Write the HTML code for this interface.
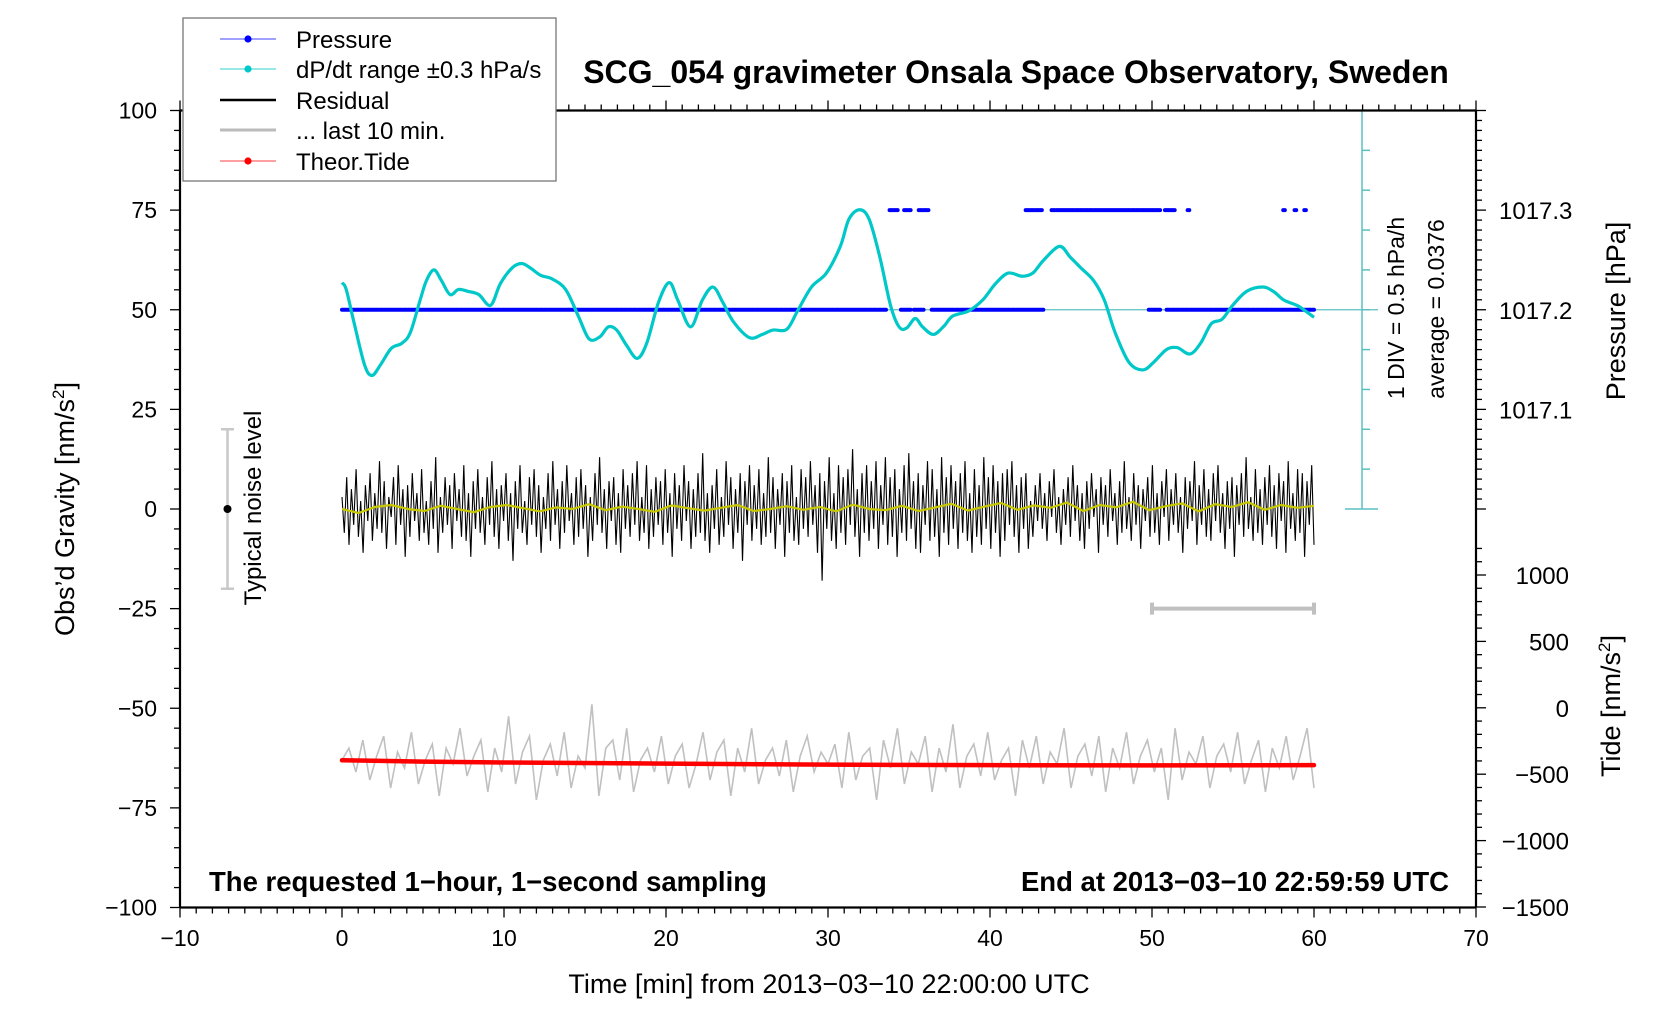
<!DOCTYPE html>
<html><head><meta charset="utf-8"><style>
html,body{margin:0;padding:0;background:#fff;}
svg{display:block;font-family:"Liberation Sans",Arial,sans-serif;}
</style></head><body>
<svg id="chart" width="1676" height="1020" viewBox="0 0 1676 1020" xmlns="http://www.w3.org/2000/svg">
<rect x="0" y="0" width="1676" height="1020" fill="#fff"/>
<g id="ticks"></g>
<g id="series"></g>
<g id="frame"></g>
<g id="labels"></g>
<text x="1016" y="83" font-size="32" font-weight="bold" text-anchor="middle">SCG_054 gravimeter Onsala Space Observatory, Sweden</text>
<text transform="translate(74,509) rotate(-90)" font-size="27" text-anchor="middle">Obs’d Gravity [nm/s<tspan font-size="17" dy="-10">2</tspan><tspan dy="10">]</tspan></text>
<text x="829" y="993" font-size="27" text-anchor="middle">Time [min] from 2013−03−10 22:00:00 UTC</text>
<text transform="translate(1625,311) rotate(-90)" font-size="27" text-anchor="middle">Pressure [hPa]</text>
<text transform="translate(1620,706) rotate(-90)" font-size="27" text-anchor="middle">Tide [nm/s<tspan font-size="17" dy="-10">2</tspan><tspan dy="10">]</tspan></text>
<text transform="translate(1404,308) rotate(-90)" font-size="23" text-anchor="middle">1 DIV = 0.5 hPa/h</text>
<text transform="translate(1444,309) rotate(-90)" font-size="23" text-anchor="middle">average = 0.0376</text>
<text transform="translate(261,508) rotate(-90)" font-size="24" text-anchor="middle">Typical noise level</text>
<text x="209" y="891" font-size="27.5" font-weight="bold">The requested 1−hour, 1−second sampling</text>
<text x="1449" y="891" font-size="27.5" font-weight="bold" text-anchor="end">End at 2013−03−10 22:59:59 UTC</text>
<g>
<rect x="183" y="18" width="373" height="163" fill="#fff" stroke="#777" stroke-width="1.3"/>
<g><line x1="220" y1="39" x2="276" y2="39" stroke="#4040ff" stroke-width="1"/><circle cx="248" cy="39" r="3.6" fill="#0000ff"/><text x="296" y="48" font-size="24">Pressure</text></g>
<g><line x1="220" y1="69" x2="276" y2="69" stroke="#30d0d0" stroke-width="1"/><circle cx="248" cy="69" r="3.6" fill="#00c8c8"/><text x="296" y="78" font-size="24">dP/dt range ±0.3 hPa/s</text></g>
<g><line x1="220" y1="100" x2="276" y2="100" stroke="#000" stroke-width="2.5"/><text x="296" y="109" font-size="24">Residual</text></g>
<g><line x1="220" y1="130" x2="276" y2="130" stroke="#bbb" stroke-width="3"/><text x="296" y="139" font-size="24">... last 10 min.</text></g>
<g><line x1="220" y1="161" x2="276" y2="161" stroke="#ff4040" stroke-width="1"/><circle cx="248" cy="161" r="3.6" fill="#ff0000"/><text x="296" y="170" font-size="24">Theor.Tide</text></g>
</g>
</svg>
<script>
// ---- data ----
const dpdtTimes=[0,0.26,0.73,1.39,1.85,2.38,3.04,3.70,4.22,4.82,5.21,5.68,6.14,6.67,7.19,7.79,8.45,9.17,9.77,10.5,11.09,11.62,12.28,12.94,13.8,14.59,15.25,15.91,16.44,16.96,17.56,18.22,18.81,19.54,20.2,20.73,21.52,22.24,22.9,23.5,24.16,25.15,25.94,26.6,27.46,28.12,28.98,29.9,30.76,31.29,31.95,32.54,33.2,33.86,34.39,34.85,35.38,35.84,36.5,37.16,37.69,38.68,39.54,40.33,41.12,41.98,42.64,43.3,44.29,44.95,45.61,46.4,47.06,47.72,48.58,49.44,50.1,50.89,51.55,52.34,53,53.66,54.32,54.98,55.84,56.83,57.49,58.15,58.94,59.47,60];
const dpdtValues=[56.8,55.1,47,36.2,33.5,36.2,40.3,41.6,44.3,52.4,57.3,60,57.3,53.8,55.1,54.6,53.8,51.1,56.5,60.5,61.6,60.5,58.6,57.8,55.1,48.4,42.7,43.2,45.7,44.9,41.1,37.8,41.6,51.9,56.8,52.4,45.7,52.4,55.7,51.9,47,43,43.8,44.9,45.1,49.7,55.7,59.2,65.9,72.7,75.1,72.7,63.2,51.1,45.7,45.4,47.8,45.7,43.8,45.9,48.4,49.7,52.4,56.5,59.2,58.4,59.2,62.4,65.9,63.2,60.5,57.3,52.4,44.3,36.8,34.9,36.8,40,40.5,38.9,41.6,46.5,47.6,51.1,54.6,55.7,54.6,52.4,51.1,49.7,48.1];
const presSegStart=[0,33.8,34.7,35.6,42.2,43.8,50.8,52.2,58.1,58.8,59.4,34.5,35.3,36.4,49.8,50.9];
const presSegEnd=[33.6,34.3,35.1,36.2,43.2,50.5,51.4,52.3,58.2,58.9,59.5,35.1,35.9,43.3,50.5,60];
const presSegValue=[1017.2,1017.3,1017.3,1017.3,1017.3,1017.3,1017.3,1017.3,1017.3,1017.3,1017.3,1017.2,1017.2,1017.2,1017.2,1017.2];
const residualValues=[3,-6,8,-9,5,-4,10,-7,2,-11,6,-3,9,-8,4,-5,12,-6,7,-10,3,-2,8,-9,11,-4,5,-12,6,-7,9,-3,4,-8,10,-6,2,-9,7,-5,13,-11,3,-6,8,-4,6,-10,9,-3,5,-7,11,-8,4,-12,7,-5,10,-6,3,-9,8,-4,12,-7,5,-10,6,-3,9,-8,4,-13,7,-5,11,-6,2,-9,8,-4,10,-7,6,-11,3,-5,9,-8,12,-4,5,-10,7,-6,11,-3,4,-9,8,-7,10,-5,6,-12,3,-8,9,-4,13,-6,5,-10,7,-3,8,-9,4,-11,10,-5,6,-7,9,-4,12,-8,3,-6,11,-10,5,-7,8,-4,7,-9,10,-6,4,-12,9,-5,6,-8,11,-3,7,-10,5,-7,9,-6,14,-8,4,-11,6,-5,10,-9,3,-7,12,-4,8,-10,5,-6,9,-13,7,-4,11,-8,6,-5,10,-9,4,-7,13,-6,8,-10,5,-4,9,-12,7,-6,11,-8,3,-9,10,-5,8,-7,12,-4,6,-11,9,-18,7,-5,13,-8,4,-10,11,-6,8,-9,10,-4,15,-7,5,-12,9,-6,11,-8,7,-5,12,-10,6,-4,13,-9,8,-7,10,-12,5,-6,11,-8,14,-5,7,-10,9,-11,6,-4,12,-8,10,-7,5,-12,13,-6,8,-9,11,-5,7,-10,9,-6,12,-8,4,-11,10,-7,6,-9,13,-5,8,-10,11,-6,7,-12,9,-8,10,-4,12,-7,6,-11,8,-5,9,-10,2,-7,6,-3,9,-5,4,-8,7,-2,10,-6,3,-9,5,-4,8,-7,11,-3,6,-8,4,-10,7,-5,9,-2,5,-11,8,-4,6,-7,10,-3,4,-9,7,-6,12,-5,3,-8,9,-4,6,-10,5,-3,8,-7,11,-6,4,-9,7,-2,10,-8,5,-4,9,-6,3,-11,8,-5,7,-3,12,-9,6,-4,10,-7,5,-8,9,-3,11,-6,4,-10,7,-5,8,-12,6,-4,9,-7,13,-5,3,-8,10,-6,5,-9,8,-4,11,-7,6,-10,9,-3,7,-11,12,-5,4,-8,10,-6,9,-12,7,-4,11,-9];
const smoothValues=[0,-1,0.5,1,0,-0.5,0.8,0,-0.8,0.5,1,0.2,-0.6,0.4,0,1.2,-0.3,0.6,0,-0.7,0.9,0.2,-0.4,0.3,1,-0.5,0,0.7,-0.2,0.5,-0.6,1.1,0,-0.3,0.8,-0.5,0.4,1.3,-0.4,0.6,1.5,-0.2,0.9,0.3,1.6,-0.5,1,0.4,1.8,-0.3,0.7,1.4,-0.6,1.2,0.5,1.7,-0.2,1,0.3,0.8];
const last10Values=[-63,-60,-66,-58,-68,-62,-57,-70,-61,-65,-56,-69,-63,-59,-72,-60,-64,-55,-67,-62,-58,-71,-60,-66,-52,-69,-61,-57,-73,-63,-59,-67,-56,-70,-62,-65,-49,-72,-60,-58,-68,-55,-71,-63,-60,-66,-57,-69,-62,-59,-70,-64,-56,-68,-61,-58,-72,-60,-66,-55,-69,-63,-60,-67,-58,-71,-62,-57,-66,-61,-64,-59,-70,-56,-68,-62,-60,-73,-58,-65,-55,-69,-61,-64,-57,-71,-60,-66,-54,-70,-62,-59,-67,-56,-68,-63,-60,-72,-58,-65,-57,-69,-61,-64,-55,-70,-62,-59,-67,-57,-71,-60,-65,-56,-69,-62,-58,-66,-60,-73,-55,-68,-61,-64,-57,-70,-62,-59,-66,-56,-69,-63,-58,-71,-60,-65,-57,-68,-62,-55,-70];
const tideTimes=[0,5,10,20,30,40,50,60];
const tideValues=[-395,-405,-412,-420,-428,-432,-434,-432];
const xTickLabels=["−10","0","10","20","30","40","50","60","70"];
const yTickLabels=["100","75","50","25","0","−25","−50","−75","−100"];
const presTickLabels=["1017.3","1017.2","1017.1"];
const tideTickLabels=["1000","500","0","−500","−1000","−1500"];

// ---- scales ----
const X0=180,X1=1476,YT=110.5,YB=907.5;
const xs=t=>X0+(t+10)/80*(X1-X0);
const ys=g=>509-g*(YB-YT)/200;
const ps=p=>ys(50+(p-1017.2)*250);
const ts=v=>707.8-v*66.4/500;
const NS='http://www.w3.org/2000/svg';
function mk(tag,attrs,parent){const e=document.createElementNS(NS,tag);for(const k in attrs)e.setAttribute(k,attrs[k]);parent.appendChild(e);return e;}
const T=document.getElementById('ticks'),S=document.getElementById('series'),F=document.getElementById('frame'),L=document.getElementById('labels');

// ticks
for(let t=-10;t<=70;t++){const maj=t%10===0;const x=xs(t);
 let a=mk('line',{x1:x,x2:x,y1:YB,y2:YB+(maj?10:6),stroke:'#000','stroke-width':1.3},T);
 
 
 let b=mk('line',{x1:x,x2:x,y1:YT,y2:YT-(maj?10:6),stroke:'#000','stroke-width':1.3},T);
 
 }
for(let g=-100;g<=100;g+=5){const maj=g%25===0;const y=ys(g);
 let a=mk('line',{x1:X0,x2:X0-(maj?10:6),y1:y,y2:y,stroke:'#000','stroke-width':1.3},T);
 
 }
for(let i=0;i<=40;i++){const p=1017.0+i*0.01;const y=ps(p);if(y<YT)break;const maj=i%10===0;
 let a=mk('line',{x1:X1,x2:X1+(maj?10:6),y1:y,y2:y,stroke:'#000','stroke-width':1.3},T);
 
 }
for(let v=-1500;v<=1200;v+=100){const y=ts(v);const maj=v%500===0;
 let a=mk('line',{x1:X1,x2:X1+(maj?10:6),y1:y,y2:y,stroke:'#000','stroke-width':1.3},T);
 
 }

// tick labels
xTickLabels.forEach((s,i)=>{let e=mk('text',{x:xs(-10+i*10),y:946,'font-size':23,'text-anchor':'middle'},L);e.textContent=s;
 
 });
yTickLabels.forEach((s,i)=>{let e=mk('text',{x:157,y:ys(100-i*25)+8,'font-size':23,'text-anchor':'end'},L);e.textContent=s;
 
 });
presTickLabels.forEach((s,i)=>{let e=mk('text',{x:1499,y:ps(1017.3-i*0.1)+9,'font-size':24},L);e.textContent=s;
 
 });
tideTickLabels.forEach((s,i)=>{let e=mk('text',{x:1569,y:ts(1000-i*500)+9,'font-size':24,'text-anchor':'end'},L);e.textContent=s;
 
 });

// frame
[[X0,YT,X1,YT],[X0,YB,X1,YB],[X0,YT,X0,YB],[X1,YT,X1,YB]].forEach(c=>{let e=mk('line',{x1:c[0],y1:c[1],x2:c[2],y2:c[3],stroke:'#000','stroke-width':2.2},F);
 
 });

// dp/dt scale axis
const AX=1362;
let ax=mk('line',{x1:AX,x2:AX,y1:YT,y2:ys(0),stroke:'#5bbfbf','stroke-width':1.5},S);


for(let i=0;i<=10;i++){const y=YT+i*(ys(0)-YT)/10;const cap=(i===0||i===10);
 let e=mk('line',{x1:cap?1345:AX,x2:cap?1378:AX+8,y1:y,y2:y,stroke:'#5bbfbf','stroke-width':1.5},S);
 
 }
let hl=mk('line',{x1:xs(0),x2:1378,y1:ys(50),y2:ys(50),stroke:'#5bbfbf','stroke-width':1.3},S);



// noise level bar
let nb=mk('path',{d:`M221 ${ys(20)}H234M227.5 ${ys(20)}V${ys(-20)}M221 ${ys(-20)}H234`,stroke:'#c8c8c8','stroke-width':2.5,fill:'none'},S);


let nd=mk('circle',{cx:227.5,cy:ys(0),r:4,fill:'#000'},S);



// last-10 bar
let lb=mk('path',{d:`M${xs(50)} ${ys(-25)}H${xs(60)}M${xs(50)} ${ys(-25)-6}V${ys(-25)+6}M${xs(60)} ${ys(-25)-6}V${ys(-25)+6}`,stroke:'#c0c0c0','stroke-width':4,fill:'none'},S);



// pressure dots
presSegStart.forEach((s,i)=>{const y=ps(presSegValue[i]);
 let e=mk('line',{x1:xs(s),x2:xs(presSegEnd[i]),y1:y,y2:y,stroke:'#0000ff','stroke-width':4,'stroke-dasharray':'3.5 1.2','stroke-linecap':'round'},S);
 
 });

// dp/dt curve (catmull-rom)
function smoothPath(px,py){let d=`M${px[0]} ${py[0]}`;for(let i=0;i<px.length-1;i++){const x0=px[Math.max(0,i-1)],y0=py[Math.max(0,i-1)],x1=px[i],y1=py[i],x2=px[i+1],y2=py[i+1],x3=px[Math.min(px.length-1,i+2)],y3=py[Math.min(px.length-1,i+2)];
 d+=`C${x1+(x2-x0)/6} ${y1+(y2-y0)/6} ${x2-(x3-x1)/6} ${y2-(y3-y1)/6} ${x2} ${y2}`;}return d;}
let dc=mk('path',{d:smoothPath(dpdtTimes.map(xs),dpdtValues.map(ys)),stroke:'#00c8c8','stroke-width':3.2,fill:'none','stroke-linejoin':'round'},S);



// last 10 min gray
const n3=last10Values.length;
let gp=mk('path',{d:'M'+last10Values.map((v,i)=>`${xs(i*60/(n3-1)).toFixed(1)} ${ys(v).toFixed(1)}`).join('L'),stroke:'#c0c0c0','stroke-width':1.6,fill:'none'},S);



// tide
let td=mk('path',{d:'M'+tideTimes.map((t,i)=>`${xs(t)} ${ts(tideValues[i])}`).join('L'),stroke:'#ff0000','stroke-width':4.5,fill:'none','stroke-linecap':'round'},S);



// residual
const n1=residualValues.length;
let rp=mk('path',{d:'M'+residualValues.map((v,i)=>`${xs(i*60/(n1-1)).toFixed(1)} ${ys(v).toFixed(1)}`).join('L'),stroke:'#000','stroke-width':1.1,fill:'none'},S);


const n2=smoothValues.length;
let sp=mk('path',{d:'M'+smoothValues.map((v,i)=>`${xs(i*60/(n2-1)).toFixed(1)} ${ys(v).toFixed(1)}`).join('L'),stroke:'#c8c800','stroke-width':2.2,fill:'none'},S);


</script>
</body></html>
